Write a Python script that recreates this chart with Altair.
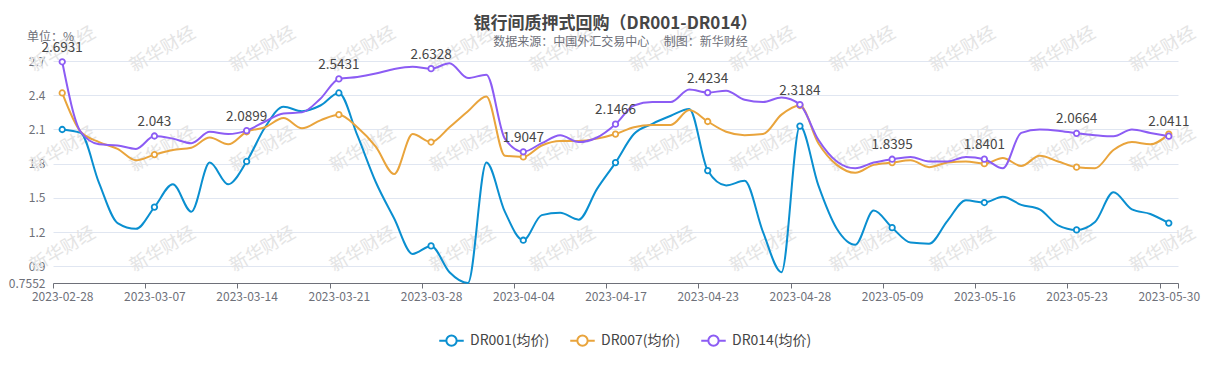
import json
import altair as alt
import pandas as pd

# ---- data ----
dates = [
    "2023-02-28", "2023-03-01", "2023-03-02", "2023-03-03", "2023-03-06",
    "2023-03-07", "2023-03-08", "2023-03-09", "2023-03-10", "2023-03-13",
    "2023-03-14", "2023-03-15", "2023-03-16", "2023-03-17", "2023-03-20",
    "2023-03-21", "2023-03-22", "2023-03-23", "2023-03-24", "2023-03-27",
    "2023-03-28", "2023-03-29", "2023-03-30", "2023-03-31", "2023-04-03",
    "2023-04-04", "2023-04-06", "2023-04-07", "2023-04-10", "2023-04-11",
    "2023-04-17", "2023-04-18", "2023-04-19", "2023-04-20", "2023-04-21",
    "2023-04-23", "2023-04-24", "2023-04-25", "2023-04-26", "2023-04-27",
    "2023-04-28", "2023-05-04", "2023-05-05", "2023-05-06", "2023-05-08",
    "2023-05-09", "2023-05-10", "2023-05-11", "2023-05-12", "2023-05-15",
    "2023-05-16", "2023-05-17", "2023-05-18", "2023-05-19", "2023-05-22",
    "2023-05-23", "2023-05-24", "2023-05-25", "2023-05-26", "2023-05-29",
    "2023-05-30",
]

dr001 = [
    2.10, 2.07, 1.63, 1.28, 1.23, 1.42, 1.62, 1.38, 1.81, 1.62,
    1.82, 2.12, 2.30, 2.26, 2.31, 2.42, 2.05, 1.64, 1.32, 1.01,
    1.08, 0.85, 0.7552, 1.81, 1.38, 1.13, 1.35, 1.37, 1.31, 1.58,
    1.81, 2.06, 2.15, 2.22, 2.28, 1.74, 1.61, 1.65, 1.20, 0.85,
    2.13, 1.61, 1.23, 1.09, 1.39, 1.24, 1.11, 1.10, 1.30, 1.48,
    1.46, 1.51, 1.44, 1.40, 1.26, 1.22, 1.29, 1.55, 1.40, 1.36,
    1.28,
]

dr007 = [
    2.42, 2.08, 1.99, 1.93, 1.83, 1.88, 1.92, 1.94, 2.03, 1.97,
    2.08, 2.12, 2.20, 2.11, 2.18, 2.23, 2.12, 1.95, 1.71, 2.06,
    1.99, 2.12, 2.26, 2.39, 1.87, 1.86, 1.96, 2.00, 2.00, 2.02,
    2.06, 2.12, 2.14, 2.14, 2.27, 2.17, 2.08, 2.05, 2.06, 2.23,
    2.31, 1.98, 1.79, 1.72, 1.79, 1.81, 1.83, 1.77, 1.81, 1.82,
    1.80, 1.85, 1.78, 1.87, 1.82, 1.77, 1.76, 1.92, 1.99, 1.97,
    2.06,
]

dr014 = [
    2.6931, 2.08, 1.97, 1.96, 1.93, 2.043, 2.02, 1.98, 2.08, 2.06,
    2.0899, 2.17, 2.24, 2.25, 2.37, 2.5431, 2.56, 2.59, 2.63, 2.65,
    2.6328, 2.68, 2.55, 2.58, 2.02, 1.9047, 1.98, 2.05, 1.99, 2.03,
    2.1466, 2.31, 2.34, 2.34, 2.45, 2.4234, 2.44, 2.36, 2.34, 2.38,
    2.3184, 2.01, 1.82, 1.76, 1.81, 1.8395, 1.86, 1.82, 1.82, 1.86,
    1.8401, 1.76, 2.07, 2.10, 2.09, 2.0664, 2.05, 2.04, 2.10, 2.07,
    2.0411,
]

series_names = ["DR001(均价)", "DR007(均价)", "DR014(均价)"]
series_colors = ["#0a8fd0", "#e9a43c", "#8c5cf4"]
y_ticks = [0.7552, 0.9, 1.2, 1.5, 1.8, 2.1, 2.4, 2.7]
y_domain = [0.7552, 2.7]
n_cat = len(dates)
x_ticks = list(range(0, n_cat, 5)) + [n_cat]

title_text = "银行间质押式回购（DR001-DR014）"
subtitle_text = "数据来源：中国外汇交易中心\u3000  制图：新华财经"
unit_text = "单位：%"
watermark_text = "新华财经"

# ---- tables ----
rows = []
for s_i, (name, vals) in enumerate(zip(series_names, [dr001, dr007, dr014])):
    for i, v in enumerate(vals):
        rows.append({"series": name, "sidx": s_i, "idx": i, "pos": i + 0.5,
                     "date": dates[i], "value": v})
df = pd.DataFrame(rows)

PLOT_W, PLOT_H = 1125, 222
FONT = "Noto Sans CJK SC"
AX_COLOR = "#6e7079"

# decorative watermark tiling (pixel grid, relative to the plot origin)
wm_cols = [10 + 100 * k for k in range(12)]
wm_rows = [-11, 89, 189]
wm_df = pd.DataFrame([{"wx": x, "wy": y, "t": watermark_text}
                      for y in wm_rows for x in wm_cols])

label_expr = "(" + json.dumps(dates) + ")[datum.value] || ''"

x_enc = alt.X(
    "pos:Q",
    scale=alt.Scale(domain=[0, n_cat], nice=False, zero=False),
    axis=alt.Axis(
        values=x_ticks, labelExpr=label_expr, labelOffset=9.2,
        labelFlush=False, labelOverlap=False, labelBound=False,
        grid=False, domainColor=AX_COLOR, tickColor=AX_COLOR, tickSize=5,
        labelColor=AX_COLOR, labelFontSize=12, labelPadding=3, title=None,
    ),
)
y_enc = alt.Y(
    "value:Q",
    scale=alt.Scale(domain=y_domain, nice=False, zero=False),
    axis=alt.Axis(
        values=y_ticks, labelExpr="format(datum.value, '~g')",
        domain=False, ticks=False,
        gridColor="#e0e6f1", labelColor=AX_COLOR, labelFontSize=12,
        labelPadding=8, title=None,
    ),
)

color_scale = alt.Scale(domain=series_names, range=series_colors)
legend_symbol = ("M-1,0L-0.42,0M0.42,0L1,0M0.42,0A0.42,0.42,0,1,1,-0.42,0"
                 "A0.42,0.42,0,1,1,0.42,0")
legend = alt.Legend(
    title=None, orient="none", legendX=385, legendY=266,
    direction="horizontal", columns=3, symbolType=legend_symbol,
    symbolSize=600, symbolStrokeWidth=2, symbolFillColor="white",
    labelFontSize=14, labelColor="#444444", labelOffset=5,
    columnPadding=16, labelFont=FONT,
)
color_enc = alt.Color("series:N", scale=color_scale, legend=legend,
                      sort=series_names)

watermark = alt.Chart(wm_df).mark_text(
    angle=330, fontSize=18, color="#e4e4e4", font=FONT,
    align="center", baseline="middle",
).encode(
    x=alt.X("wx:Q", scale=None, axis=None),
    y=alt.Y("wy:Q", scale=None, axis=None),
    text="t:N",
)

base = alt.Chart(df).encode(x=x_enc, y=y_enc)

lines = base.mark_line(interpolate="monotone", strokeWidth=2).encode(
    color=color_enc,
    order="idx:Q",
)

points = base.transform_filter("datum.idx % 5 == 0").mark_point(
    shape="circle", filled=False, fill="white", size=30, strokeWidth=1.8,
    opacity=1,
).encode(color=color_enc)

labels = base.transform_filter(
    "datum.idx % 5 == 0 && datum.sidx == 2"
).mark_text(dy=-10, baseline="alphabetic", fontSize=13.5,
            color="#464646", font=FONT).encode(
    text=alt.Text("value:Q", format="~g")
)

ann_df = pd.DataFrame({"title": [title_text], "sub": [subtitle_text],
                       "unit": [unit_text]})
title_mark = alt.Chart(ann_df).mark_text(
    align="center", baseline="middle", fontSize=17, fontWeight="bold",
    color="#464646", font=FONT,
).encode(x=alt.value(PLOT_W / 2), y=alt.value(-37.5), text="title:N")
subtitle_mark = alt.Chart(ann_df).mark_text(
    align="center", baseline="middle", fontSize=12, color=AX_COLOR,
    font=FONT,
).encode(x=alt.value(PLOT_W / 2 + 5), y=alt.value(-19.5), text="sub:N")
unit_mark = alt.Chart(ann_df).mark_text(
    align="left", baseline="middle", fontSize=12, color=AX_COLOR, font=FONT,
).encode(x=alt.value(-26), y=alt.value(-24), text="unit:N")

chart = alt.layer(
    watermark, lines, points, labels, title_mark, subtitle_mark, unit_mark
).properties(
    width=PLOT_W, height=PLOT_H,
    padding={"left": 45, "top": 53, "right": 25, "bottom": 77},
    autosize=alt.AutoSizeParams(type="none"),
).configure(font=FONT, background="white").configure_view(stroke=None)

chart.save("out.html", embed_options={"renderer": "svg", "actions": False})
